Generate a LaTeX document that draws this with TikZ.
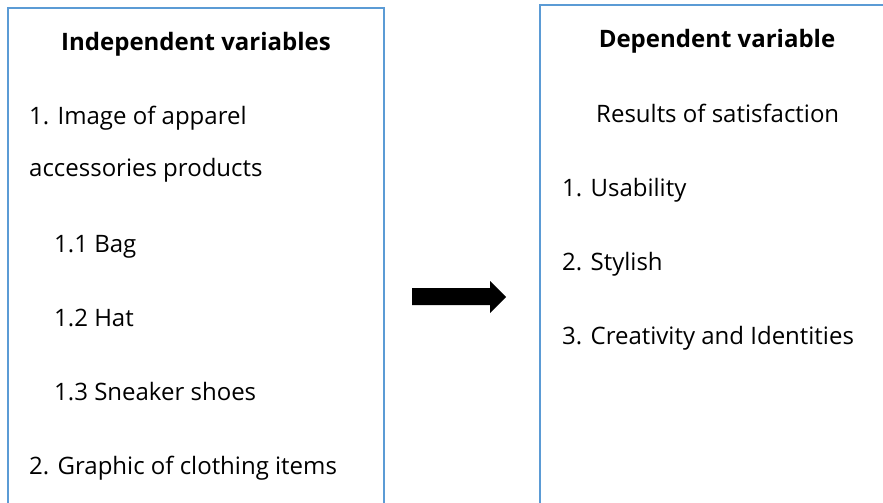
\documentclass[tikz,border=0pt]{standalone}
\usepackage{fontspec}
\setmainfont{Open Sans}
\usepackage{xcolor}
\usepackage{tikz}
\definecolor{boxblue}{HTML}{5B9BD5}

\begin{document}
\begin{tikzpicture}[x=1pt,y=-1pt,
  frame/.style={draw=boxblue,line width=2pt},
  txt/.style={anchor=base west,inner sep=0pt,font=\fontsize{24}{29}\selectfont},
  head/.style={anchor=base,inner sep=0pt,font=\fontsize{24}{29}\selectfont\bfseries}]
     \useasboundingbox (0,0) rectangle (883,503);
     \clip (0,0) rectangle (883,503);

      % Draw the two boxes
      \draw[frame] (8,8) rectangle (384,530);
      \draw[frame] (540,5) rectangle (900,530);

      % Independent side
      \node[head] (indep) at (196,51) {Independent variables};
      \node[txt] (img1) at (29,124) {1. Image of apparel};
      \node[txt] (img2) at (29,176) {accessories products};
      \node[txt] (bag) at (54,252) {1.1 Bag};
      \node[txt] (hat) at (54,326) {1.2 Hat};
      \node[txt] (shoes) at (54,400) {1.3 Sneaker shoes};
      \node[txt] (graphic) at (29,474) {2. Graphic of clothing items};

      % Dependent side
      \node[head] (dep) at (717,48) {Dependent variable};
      \node[txt] (result) at (596,122) {Results of satisfaction};
      \node[txt] (usab) at (562,196) {1. Usability};
      \node[txt] (style) at (562,270) {2. Stylish};
      \node[txt] (creat) at (562,344) {3. Creativity and Identities};

      % Draw arrow
      \fill[black] (412,288) -- (490,288) -- (490,281) -- (506,297)
        -- (490,313) -- (490,305) -- (412,305) -- cycle;
        \end{tikzpicture}
\end{document}
